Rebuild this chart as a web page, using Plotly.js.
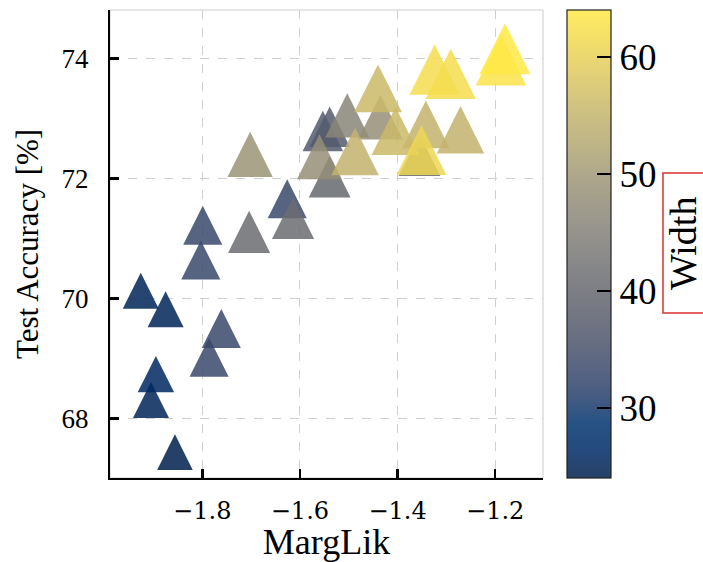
<!DOCTYPE html>
<html>
<head>
<meta charset="utf-8">
<script src="https://cdn.plot.ly/plotly-3.0.1.min.js"></script>
<style>html,body{margin:0;padding:0;background:#fff;}#chart{width:703px;height:562px;}</style>
</head>
<body>
<div id="chart"></div>
<script>
// Values
const margLik = [-1.856, -1.926, -1.875, -1.905, -1.895, -1.761, -1.786, -1.803, -1.799, -1.626,
                 -1.553, -1.539, -1.539, -1.355, -1.704, -1.614, -1.503, -1.560, -1.435, -1.702,
                 -1.487, -1.342, -1.271, -1.440, -1.404, -1.351, -1.324, -1.291, -1.188, -1.180];
const testAcc = [67.44, 70.13, 69.82, 68.31, 68.74, 69.50, 69.02, 70.64, 71.22, 71.66,
                 72.79, 72.86, 72.03, 72.39, 71.11, 71.34, 73.05, 72.36, 73.02, 72.40,
                 72.45, 72.90, 72.81, 73.50, 72.79, 72.47, 73.81, 73.74, 73.97, 74.16];
const widthVal = [24, 25, 25, 25, 26, 33, 33, 33, 33, 33,
                  37, 37, 40, 40, 41, 41, 46, 48, 48, 49,
                  55, 55, 55, 56, 56, 61, 62, 62, 63, 64];
const xTicks = [-1.8, -1.6, -1.4, -1.2];
const yTicks = [68, 70, 72, 74];
const cbTicks = [30, 40, 50, 60];

// marker side grows with the width value (equilateral-like triangle, centred on the point)
const markerSizes = widthVal.map(w => 36 + 0.385 * (w - 25));
const ALPHA = 0.85;

const cividis = [
  [0.000000, [0, 32, 76]], [0.058824, [0, 42, 102]], [0.117647, [0, 52, 110]],
  [0.176471, [39, 63, 108]], [0.235294, [60, 74, 107]], [0.294118, [76, 85, 107]],
  [0.352941, [91, 95, 109]], [0.411765, [104, 106, 112]], [0.470588, [117, 117, 117]],
  [0.529412, [131, 129, 120]], [0.588235, [146, 140, 120]], [0.647059, [161, 152, 118]],
  [0.705882, [176, 165, 114]], [0.764706, [192, 177, 109]], [0.823529, [209, 191, 102]],
  [0.882353, [225, 204, 92]], [0.941176, [243, 219, 79]], [1.000000, [255, 233, 69]]
];
const scaleSolid = cividis.map(([t, c]) => [t, 'rgb(' + c.join(',') + ')']);
const scaleFaded = cividis.map(([t, c]) => [t, 'rgb(' + c.map(v => Math.round(ALPHA * v + (1 - ALPHA) * 255)).join(',') + ')']);

const FONT = 'Liberation Serif, Times New Roman, serif';

const points = {
  type: 'scatter',
  mode: 'markers',
  x: margLik,
  y: testAcc,
  marker: {
    symbol: 'arrow-down',
    angle: 180,
    standoff: markerSizes.map(s => s / 2),
    size: markerSizes,
    color: widthVal,
    colorscale: scaleSolid,
    cmin: 24, cmax: 64,
    opacity: ALPHA,
    line: {width: 0},
    showscale: false
  },
  hoverinfo: 'skip'
};

// carries the colour bar (drawn faded like the semi-transparent markers)
const scaleHolder = {
  type: 'scatter',
  mode: 'markers',
  x: margLik,
  y: testAcc,
  marker: {
    size: 1,
    opacity: 0,
    color: widthVal,
    colorscale: scaleFaded,
    cmin: 24, cmax: 64,
    showscale: true,
    colorbar: {
      x: 1.0554, xanchor: 'left', xref: 'paper',
      y: 0.5, yanchor: 'middle',
      len: 1, lenmode: 'fraction',
      thickness: 44, thicknessmode: 'pixels',
      xpad: 0, ypad: 0,
      outlinewidth: 1.2, outlinecolor: '#222',
      tickmode: 'array', tickvals: cbTicks,
      tickprefix: '\u2005',
      ticks: 'inside', ticklen: 14, tickwidth: 2.5, tickcolor: '#000',
      tickfont: {family: FONT, size: 37, color: '#000'}
    }
  },
  hoverinfo: 'skip'
};

const layout = {
  width: 703, height: 562,
  margin: {l: 110, r: 160, t: 10, b: 84, autoexpand: false},
  paper_bgcolor: '#fff', plot_bgcolor: '#fff',
  showlegend: false,
  xaxis: {
    range: [-1.989, -1.102],
    tickmode: 'array', tickvals: xTicks,
    ticktext: xTicks.map(v => '\u2212' + Math.abs(v).toFixed(1)),
    ticks: 'inside', ticklen: 9, tickwidth: 2.5, tickcolor: '#000',
    showline: true, linecolor: '#000', linewidth: 2,
    showgrid: true, gridcolor: '#cfcfcf', gridwidth: 1, griddash: 'dash',
    zeroline: false,
    tickfont: {family: 'DejaVu Serif, serif', size: 24, color: '#000'},
    ticklabelstandoff: 10,
    title: {text: 'MargLik', font: {family: FONT, size: 36, color: '#000'}, standoff: 8},
    automargin: false
  },
  yaxis: {
    range: [67.01, 74.805],
    tickmode: 'array', tickvals: yTicks,
    ticks: 'inside', ticklen: 9, tickwidth: 2.5, tickcolor: '#000',
    showline: true, linecolor: '#000', linewidth: 2,
    showgrid: true, gridcolor: '#cfcfcf', gridwidth: 1, griddash: 'dash',
    zeroline: false,
    tickfont: {family: FONT, size: 27, color: '#000'},
    ticklabelstandoff: 14,
    title: {text: 'Test Accuracy [%]', font: {family: FONT, size: 31, color: '#000'}, standoff: 14},
    automargin: false
  },
  annotations: [
    {text: 'Width', xref: 'paper', yref: 'paper', x: 1.3233, y: 0.502,
     xanchor: 'center', yanchor: 'middle', textangle: -90, showarrow: false,
     font: {family: FONT, size: 38, color: '#000'}}
  ],
  shapes: [
    {type: 'rect', xref: 'paper', yref: 'paper', x0: 0, x1: 1, y0: 0, y1: 1,
     line: {color: '#cccccc', width: 1}, layer: 'below'},
    {type: 'rect', xref: 'paper', yref: 'paper', x0: 1.2771, x1: 1.3718, y0: 0.3526, y1: 0.6517,
     line: {color: '#d93030', width: 1.5}, fillcolor: 'rgba(0,0,0,0)', layer: 'above'}
  ]
};

Plotly.newPlot('chart', [scaleHolder, points], layout, {displayModeBar: false, staticPlot: true});
</script>
</body>
</html>
